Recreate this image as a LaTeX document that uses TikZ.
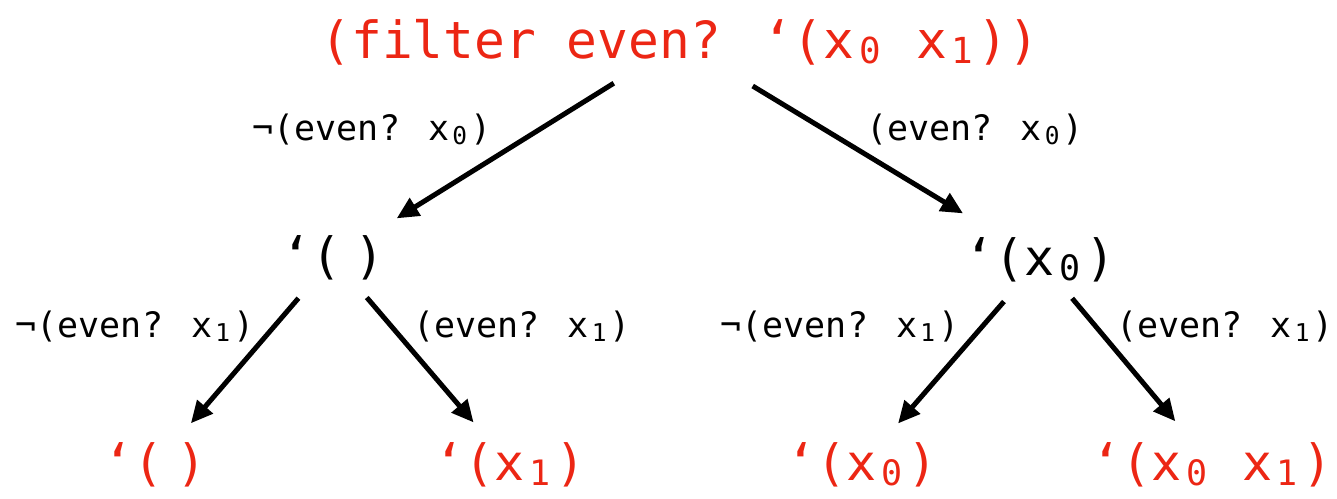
\documentclass[tikz,border=0pt]{standalone}
\usepackage{fontspec}
\usepackage{graphicx}
\usepackage{tikz}
\usetikzlibrary{arrows.meta}
\newfontfamily\codefont{DejaVu Sans Mono}
\definecolor{resred}{RGB}{236,38,20}
\newcommand{\nil}{(\hspace{0.25em})}
\newcommand{\idx}[1]{\makebox[0.602em][c]{\raisebox{-0.1em}{\scalebox{0.7}{#1}}}}

\tikzset{
  root/.style={font=\codefont\fontsize{25.6}{30}\selectfont,text=resred,inner sep=0pt},
  mid/.style={font=\codefont\fontsize{25}{30}\selectfont,text=black,inner sep=0pt},
  leaf/.style={font=\codefont\fontsize{25}{30}\selectfont,text=resred,inner sep=0pt},
  cond/.style={font=\codefont\fontsize{17.5}{21}\selectfont,inner sep=0pt},
  branch/.style={-{Triangle[length=11pt,width=10pt]},line width=2.5pt},
}

\begin{document}
\begin{tikzpicture}[x=0.5pt,y=-0.5pt]
  \useasboundingbox (0,0) rectangle (1337,498);
  % the call and its two outcomes after x0
  \node[root] (call) at (680,42) {(filter even? ‘(x\idx{0} x\idx{1}))};
  \node[mid] (none) at (333,258) {‘\nil};
  \node[mid] (keep0) at (1040,260) {‘(x\idx{0})};
  % results after x1
  \node[leaf] (nn) at (155,465) {‘\nil};
  \node[leaf] (n1) at (510,465) {‘(x\idx{1})};
  \node[leaf] (k0) at (862,465) {‘(x\idx{0})};
  \node[leaf] (k01) at (1212,465) {‘(x\idx{0} x\idx{1})};
  % branches
  \draw[branch,shorten <=39pt,shorten >=37.5pt] (call.center) -- (none.center);
  \draw[branch,shorten <=42.5pt,shorten >=45pt] (call.center) -- (keep0.center);
  \draw[branch,shorten <=26.5pt,shorten >=27.5pt] (none.center) -- (nn.center);
  \draw[branch,shorten <=26pt,shorten >=28pt] (none.center) -- (n1.center);
  \draw[branch,shorten <=27.5pt,shorten >=27.5pt] (keep0.center) -- (k0.center);
  \draw[branch,shorten <=25pt,shorten >=28.5pt] (keep0.center) -- (k01.center);
  % conditions
  \node[cond] (c0n) at (372,130) {¬(even? x\idx{0})};
  \node[cond] (c0) at (975,130) {(even? x\idx{0})};
  \node[cond] (c1na) at (135,327) {¬(even? x\idx{1})};
  \node[cond] (c1a) at (522,327) {(even? x\idx{1})};
  \node[cond] (c1nb) at (840,327) {¬(even? x\idx{1})};
  \node[cond] (c1b) at (1225,327) {(even? x\idx{1})};
\end{tikzpicture}
\end{document}
